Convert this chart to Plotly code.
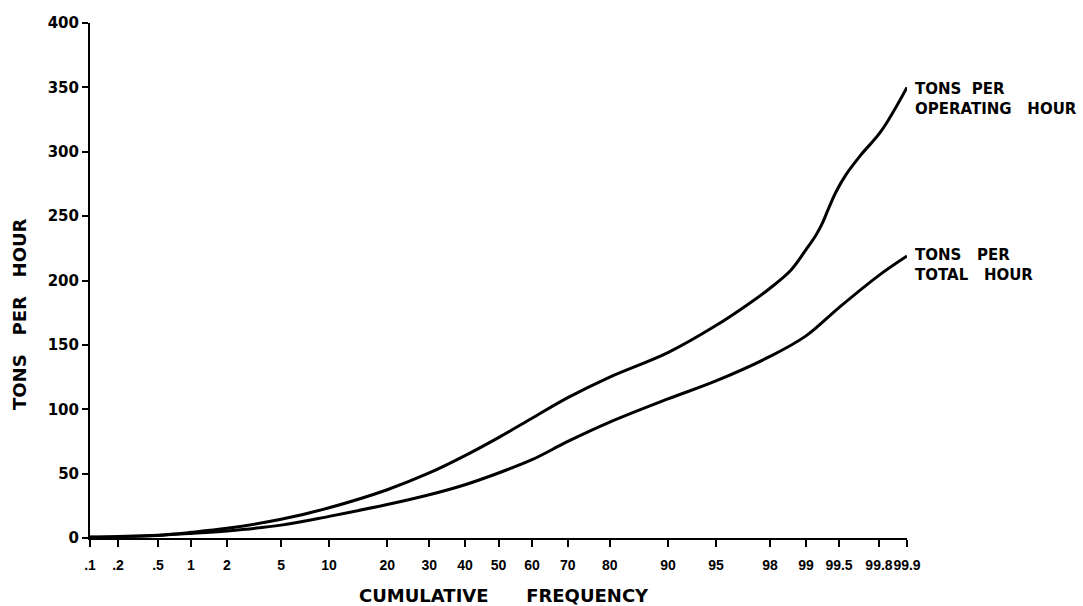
import plotly.graph_objects as go
from statistics import NormalDist

# ---- data (cumulative frequency in %, tons per hour) ----
tick_pcts = [0.1, 0.2, 0.5, 1, 2, 5, 10, 20, 30, 40, 50, 60, 70, 80, 90, 95, 98, 99, 99.5, 99.8, 99.9]
tick_labels = [".1", ".2", ".5", "1", "2", "5", "10", "20", "30", "40", "50", "60", "70", "80",
               "90", "95", "98", "99", "99.5", "99.8", "99.9"]

op_pct = [0.1, 0.2, 0.5, 1, 2, 5, 10, 20, 30, 40, 50, 60, 70, 80, 90, 95, 97, 98,
          98.65, 99.0, 99.18, 99.29, 99.36, 99.46, 99.57, 99.69, 99.81, 99.9]
op_val = [0.8, 1.2, 2.2, 4.4, 7.5, 14.5, 23.5, 37.5, 50.5, 64, 78, 93, 109, 125, 144, 165,
          181, 194, 208, 224, 235, 245, 254, 268, 282, 297, 316, 350]

tot_pct = [0.1, 0.2, 0.5, 1, 2, 5, 10, 20, 30, 40, 50, 60, 70, 80, 90, 95, 98, 99, 99.5, 99.8, 99.9]
tot_val = [0.6, 1.0, 2.0, 3.5, 5.5, 10, 16.8, 26, 33.6, 41.4, 50.5, 60.8, 75, 90, 108, 122,
           141, 157, 179, 204, 219]

nd = NormalDist()


def prob(p):
    return nd.inv_cdf(p / 100.0)


fig = go.Figure()
fig.add_trace(go.Scatter(x=[prob(p) for p in op_pct], y=op_val, mode="lines",
                         line=dict(color="black", width=3, shape="spline", smoothing=1.0),
                         hoverinfo="skip", showlegend=False))
fig.add_trace(go.Scatter(x=[prob(p) for p in tot_pct], y=tot_val, mode="lines",
                         line=dict(color="black", width=3, shape="spline", smoothing=1.0),
                         hoverinfo="skip", showlegend=False))

font = "DejaVu Sans"
NB = "\u00a0"

fig.update_layout(
    width=1083, height=606,
    margin=dict(l=90, r=176, t=23, b=68),
    paper_bgcolor="white", plot_bgcolor="white",
    font=dict(family=font, color="black", size=15),
    xaxis=dict(range=[prob(0.1), prob(99.9)], tickvals=[prob(p) for p in tick_pcts],
               ticktext=tick_labels, showgrid=False, zeroline=False,
               showline=True, linecolor="black", linewidth=2,
               ticks="outside", ticklen=7, tickwidth=2, tickcolor="black",
               tickangle=0, ticklabelstandoff=6,
               tickfont=dict(size=14, family="Liberation Sans", weight="bold")),
    yaxis=dict(range=[0, 400], tickvals=[0, 50, 100, 150, 200, 250, 300, 350, 400],
               showgrid=False, zeroline=False,
               showline=True, linecolor="black", linewidth=2,
               ticks="outside", ticklen=6, tickwidth=2, tickcolor="black",
               ticklabelstandoff=0, tickfont=dict(size=15, family=font, weight="bold")),
    annotations=[
        dict(text="TONS" + NB * 3 + "PER" + NB * 3 + "HOUR", xref="paper", yref="paper",
             x=-0.0857, y=0.435, textangle=-90, showarrow=False,
             font=dict(size=18, family=font, weight="bold"), xanchor="center", yanchor="middle"),
        dict(text="CUMULATIVE" + NB * 6 + "FREQUENCY", xref="paper", yref="paper",
             x=0.507, y=-0.1107, showarrow=False,
             font=dict(size=18, family=font, weight="bold"), xanchor="center", yanchor="middle"),
        dict(text="TONS" + NB * 2 + "PER<br>OPERATING" + NB * 3 + "HOUR", x=prob(99.9), y=341,
             xanchor="left", yanchor="middle", xshift=6, align="left", showarrow=False,
             font=dict(size=15, family=font, weight="bold")),
        dict(text="TONS" + NB * 3 + "PER<br>TOTAL" + NB * 3 + "HOUR", x=prob(99.9), y=212,
             xanchor="left", yanchor="middle", xshift=6, align="left", showarrow=False,
             font=dict(size=15, family=font, weight="bold")),
    ],
)

fig.write_html("out.html")
